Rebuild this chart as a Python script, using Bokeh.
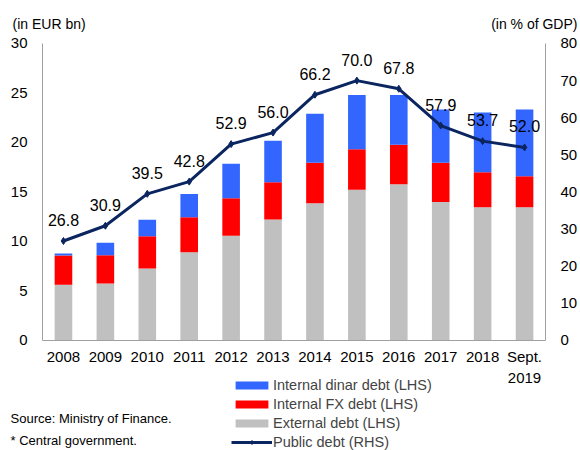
from bokeh.plotting import figure
from bokeh.models import (Range1d, LinearAxis, FixedTicker, ColumnDataSource,
                          Legend, LegendItem, Label)
from bokeh.embed import file_html
from bokeh.resources import INLINE
from bokeh.core.properties import value

# ---- data ----
years = ["2008", "2009", "2010", "2011", "2012", "2013", "2014", "2015",
         "2016", "2017", "2018", "Sept.\n2019"]
external_debt = [5.63, 5.76, 7.27, 8.92, 10.57, 12.22, 13.87, 15.22, 15.79, 14.00, 13.47, 13.47]
internal_fx_debt = [2.96, 2.86, 3.27, 3.54, 3.81, 3.77, 4.08, 4.10, 3.97, 3.95, 3.53, 3.13]
internal_dinar_debt = [0.20, 1.25, 1.65, 2.34, 3.47, 4.18, 4.95, 5.48, 5.04, 5.38, 6.03, 6.73]
public_debt_pct = [26.8, 30.9, 39.5, 42.8, 52.9, 56.0, 66.2, 70.0, 67.8, 57.9, 53.7, 52.0]
left_ticks = [0, 5, 10, 15, 20, 25, 30]
right_ticks = [0, 10, 20, 30, 40, 50, 60, 70, 80]

FONT = "Liberation Sans"
GRAY = "#c0c0c0"
RED = "#ff0000"
BLUE = "#3366ff"
NAVY = "#0b2560"
AXIS = "#a0a0a0"

n = len(years)
xpos = [i + 0.5 for i in range(n)]  # category centres

src = ColumnDataSource(dict(
    x=xpos,
    external=external_debt,
    fx=internal_fx_debt,
    dinar=internal_dinar_debt,
    pd=public_debt_pct,
    pd_label=["%.1f" % v for v in public_debt_pct],
))

W, H = 580, 450
# frame covers the whole canvas; axes are pinned with fixed_location
p = figure(width=W, height=H, x_range=Range1d(-1.002, 12.835),
           y_range=Range1d(-11.111, 34.343), output_backend="svg",
           toolbar_location=None, x_axis_location=None, y_axis_location=None,
           min_border=0, min_border_left=0, min_border_right=0,
           min_border_top=0, min_border_bottom=0)
p.extra_y_ranges = {"pct": Range1d(-29.63, 91.58)}

bars = p.vbar_stack(["external", "fx", "dinar"], x="x", width=0.42,
                    color=[GRAY, RED, BLUE], line_color=None, source=src)
line_r = p.line(x="x", y="pd", y_range_name="pct", line_width=3,
                line_color=NAVY, source=src)
pts_r = p.scatter(x="x", y="pd", y_range_name="pct", marker="diamond",
                  size=7, color=NAVY, source=src)
p.text(x="x", y="pd", text="pd_label", y_range_name="pct",
       text_align="center", text_baseline="middle", y_offset=-21,
       text_font=value(FONT), text_font_size="16px", text_color="black",
       source=src)

# axes
left_axis = LinearAxis(ticker=FixedTicker(ticks=left_ticks), fixed_location=0,
                       bounds=(left_ticks[0], left_ticks[-1]))
right_axis = LinearAxis(y_range_name="pct", ticker=FixedTicker(ticks=right_ticks),
                        fixed_location=n, bounds=(right_ticks[0], right_ticks[-1]))
bottom_axis = LinearAxis(ticker=FixedTicker(ticks=xpos), fixed_location=0,
                         bounds=(0, n),
                         major_label_overrides={x: y for x, y in zip(xpos, years)})
p.add_layout(left_axis, "left")
p.add_layout(right_axis, "right")
p.add_layout(bottom_axis, "below")

for ax in [left_axis, right_axis, bottom_axis]:
    ax.axis_line_color = AXIS
    ax.major_tick_line_color = None
    ax.minor_tick_line_color = None
    ax.major_tick_out = 0
    ax.major_tick_in = 0
    ax.minor_tick_out = 0
    ax.minor_tick_in = 0
    ax.major_label_text_font = FONT
    ax.major_label_text_font_size = "15px"
    ax.major_label_text_color = "black"
left_axis.major_label_standoff = 15
right_axis.major_label_standoff = 15
bottom_axis.major_label_standoff = 8

p.xgrid.grid_line_color = None
p.ygrid.grid_line_color = None
p.outline_line_color = None

# legend
legend = Legend(items=[
    LegendItem(label="Internal dinar debt (LHS)", renderers=[bars[2]]),
    LegendItem(label="Internal FX debt (LHS)", renderers=[bars[1]]),
    LegendItem(label="External debt (LHS)", renderers=[bars[0]]),
    LegendItem(label="Public debt (RHS)", renderers=[line_r, pts_r]),
], location=(231, -1), glyph_width=41, glyph_height=10, label_height=19,
    spacing=0, padding=0, margin=0, border_line_color=None,
    background_fill_alpha=0, label_text_font=FONT,
    label_text_font_size="14.5px", label_standoff=1)
p.add_layout(legend)

# texts
def add_label(x, y, text, size, align="left", rng="default"):
    p.add_layout(Label(x=x, y=y, text=text, text_font=FONT, y_range_name=rng,
                       text_font_size=size, text_align=align,
                       text_baseline="middle", text_color="black"))

add_label(-0.716, 31.92, "(in EUR bn)", "14px")
add_label(12.763, 85.12, "(in % of GDP)", "14px", align="right", rng="pct")
add_label(-0.763, -7.88, "Source: Ministry of Finance.", "13px")
add_label(-0.763, -10.10, "* Central government.", "13px")

open("out.html", "w").write(file_html(p, INLINE))
